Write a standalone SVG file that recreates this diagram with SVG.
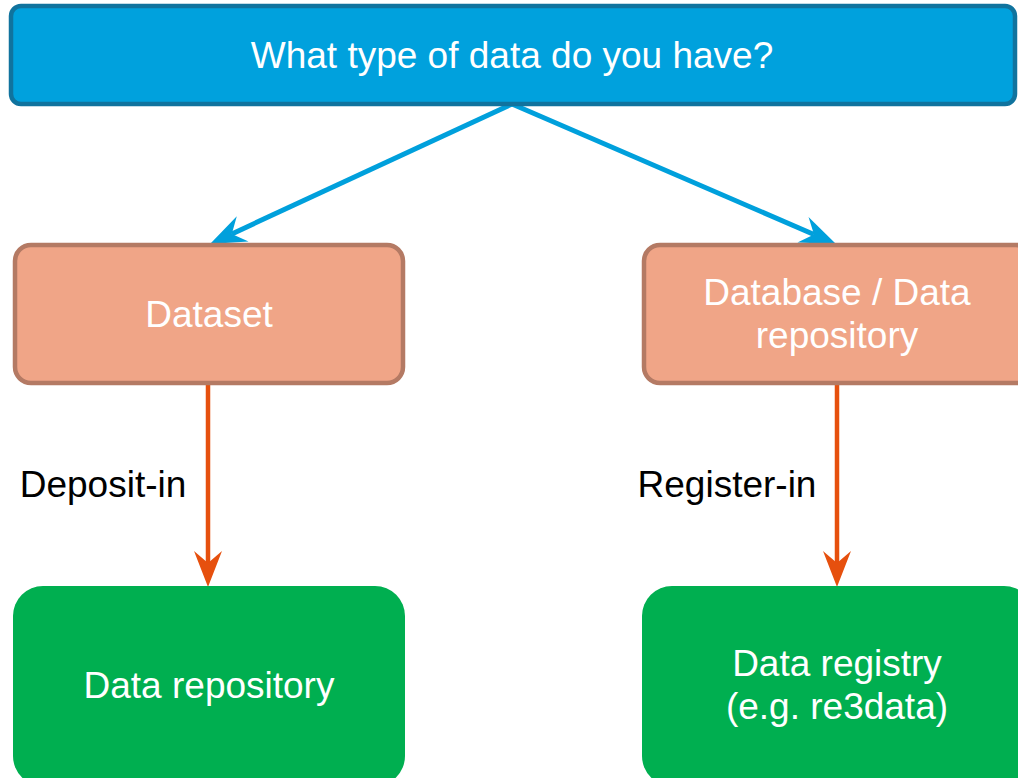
<svg xmlns="http://www.w3.org/2000/svg" width="1018" height="778" viewBox="0 0 1018 778">
<style>
text{font-family:"Liberation Sans",Arial,sans-serif;font-size:37px;text-anchor:middle}
.w{fill:#ffffff}
.k{fill:#000000}
.top{fill:#00A1DD;stroke:#10739E;stroke-width:4.5}
.mid{fill:#F0A587;stroke:#B47A64;stroke-width:4.5}
.bot{fill:#00AF50}
.cb{stroke:#00A0DC;stroke-width:5;fill:none}
.co{stroke:#E6500E;stroke-width:4.5;fill:none}
</style>
<defs>
<marker id="ab" markerUnits="userSpaceOnUse" viewBox="-40 -20 44 40" markerWidth="44" markerHeight="40" refX="-24" refY="0" orient="auto">
<path d="M0,0 L-36,-14 L-24,0 L-36,14 Z" fill="#00A0DC"/>
</marker>
<marker id="ao" markerUnits="userSpaceOnUse" viewBox="-40 -20 44 40" markerWidth="44" markerHeight="40" refX="-24" refY="0" orient="auto">
<path d="M0,0 L-36,-14 L-24,0 L-36,14 Z" fill="#E6500E"/>
</marker>
</defs>
<g id="connectors">
<line class="cb" x1="512" y1="104" x2="231.8" y2="233.9" marker-end="url(#ab)"/>
<line class="cb" x1="512" y1="104" x2="814" y2="234.5" marker-end="url(#ab)"/>
<line class="co" x1="208" y1="384" x2="208" y2="563" marker-end="url(#ao)"/>
<line class="co" x1="837" y1="384" x2="837" y2="563" marker-end="url(#ao)"/>
<text class="k" x="103" y="497">Deposit-in</text>
<text class="k" x="727" y="497">Register-in</text>
</g>
<g id="question">
<rect class="top" x="11" y="6" width="1004" height="98" rx="10"/>
<text class="w" x="512" y="68">What type of data do you have?</text>
</g>
<g id="dataset">
<rect class="mid" x="15" y="245" width="388" height="138" rx="16"/>
<text class="w" x="209" y="327">Dataset</text>
</g>
<g id="database">
<rect class="mid" x="644" y="245" width="388" height="138" rx="16"/>
<text class="w" x="837" y="305">Database / Data</text>
<text class="w" x="837" y="348">repository</text>
</g>
<g id="data-repository">
<rect class="bot" x="13" y="586" width="392" height="200" rx="30"/>
<text class="w" x="209" y="698">Data repository</text>
</g>
<g id="data-registry">
<rect class="bot" x="642" y="586" width="392" height="200" rx="30"/>
<text class="w" x="837" y="676">Data registry</text>
<text class="w" x="837" y="719">(e.g. re3data)</text>
</g>
</svg>
